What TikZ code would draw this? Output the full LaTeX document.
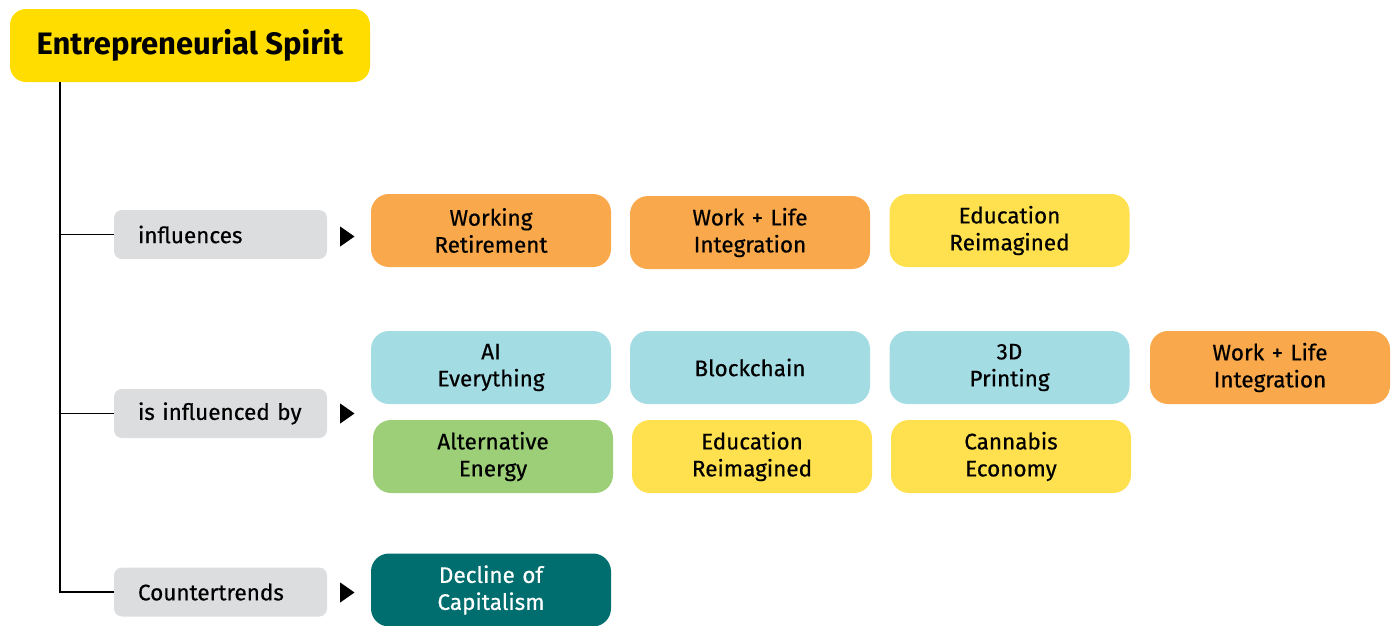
\documentclass[tikz,border=0pt]{standalone}
\usepackage{fontspec}
\setmainfont{Fira Sans}
\newfontfamily\medfont{Fira Sans}[FakeBold=0.5]
\usetikzlibrary{positioning,shapes.geometric}
\definecolor{cyel}{HTML}{FFDD00}
\definecolor{cgrey}{HTML}{DCDDDF}
\definecolor{corange}{HTML}{F9A84B}
\definecolor{clyel}{HTML}{FFE14F}
\definecolor{cblue}{HTML}{A4DCE4}
\definecolor{cgreen}{HTML}{9CCF78}
\definecolor{cteal}{HTML}{006E6E}
\tikzset{
  title/.style={fill=cyel, rounded corners=16pt, minimum width=360pt, minimum height=73pt, font=\fontsize{31}{36}\selectfont\bfseries, inner sep=0pt},
  label/.style={fill=cgrey, rounded corners=8pt, minimum width=213pt, minimum height=49pt, font=\medfont\fontsize{22.5}{27}\selectfont, inner sep=0pt, text width=165pt, align=left},
  item/.style={rounded corners=18pt, minimum width=240pt, minimum height=73pt, font=\medfont\fontsize{22.5}{27}\selectfont, inner sep=0pt, text width=230pt, align=center},
  tri/.style={fill=black, isosceles triangle, isosceles triangle apex angle=70, minimum height=11pt, minimum width=20pt, inner sep=0pt, anchor=west},
  conn/.style={draw=black, line width=1.2pt},
}
\begin{document}
\begin{tikzpicture}[x=1pt,y=-1pt]
\useasboundingbox (0,0) rectangle (1392,625);
\node[title] (t) at (190,45.5) {Entrepreneurial Spirit};
% labels
\node[label] (l1) at (220.5,234.5) {influences};
\node[label] (l2) at (220.5,413.5) {is influenced by};
\node[label] (l3) at (220.5,592) {Countertrends};
\coordinate (v) at (60,82);
\coordinate (v1) at (60,234.5);
\coordinate (v2) at (60,413.5);
\coordinate (v3) at (60,592);
\draw[conn] (v) -- (v3) -- (l3.west);
\draw[conn] (v1) -- (l1.west);
\draw[conn] (v2) -- (l2.west);
\node[tri] (a1) at (340,236.5) {};
\node[tri] (a2) at (340,413.5) {};
\node[tri] (a3) at (340,592.5) {};
% row 1
\node[item, fill=corange] (r1a) at (491,230.5) {Working\\Retirement};
\node[item, fill=corange] (r1b) at (750,232.5) {Work + Life\\Integration};
\node[item, fill=clyel] (r1c) at (1009.5,230.5) {Education\\Reimagined};
% row 2
\node[item, fill=cblue] (r2a) at (491,367.5) {AI\\Everything};
\node[item, fill=cblue] (r2b) at (750,367.5) {Blockchain};
\node[item, fill=cblue] (r2c) at (1009.5,367.5) {3D\\Printing};
\node[item, fill=corange] (r2d) at (1270,367.5) {Work + Life\\Integration};
% row 3
\node[item, fill=cgreen] (r3a) at (493,456.5) {Alternative\\Energy};
\node[item, fill=clyel] (r3b) at (752,456.5) {Education\\Reimagined};
\node[item, fill=clyel] (r3c) at (1011,456.5) {Cannabis\\Economy};
% row 4
\node[item, fill=cteal, text=white] (r4a) at (491,590) {Decline of\\Capitalism};
\end{tikzpicture}
\end{document}
